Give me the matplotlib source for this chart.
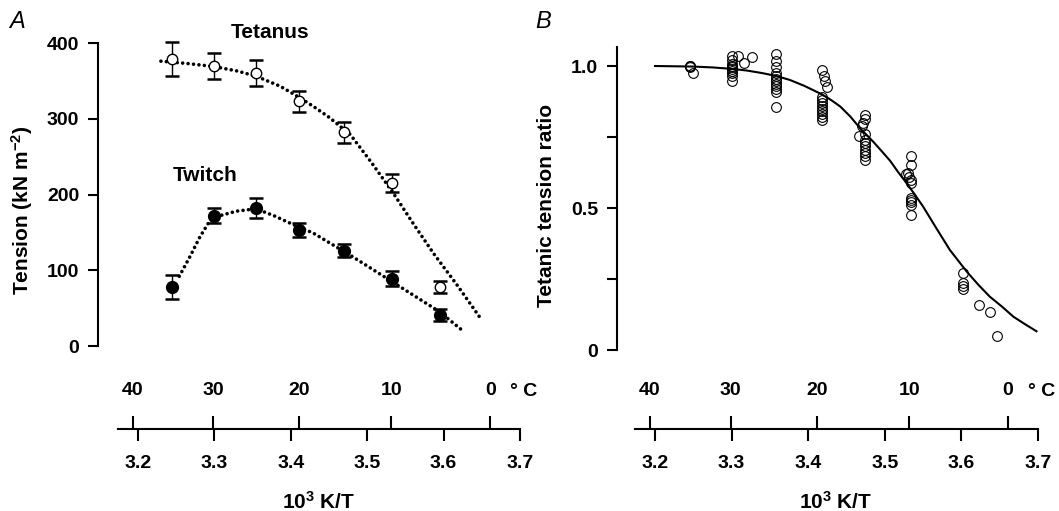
import numpy as np
import matplotlib.pyplot as plt

plt.rcParams['font.family'] = ['Liberation Sans', 'DejaVu Sans']
plt.rcParams['font.weight'] = 'bold'
plt.rcParams['axes.labelweight'] = 'bold'
plt.rcParams['mathtext.fontset'] = 'custom'
plt.rcParams['mathtext.bf'] = 'Liberation Sans:bold'
plt.rcParams['mathtext.rm'] = 'Liberation Sans:bold'
plt.rcParams['mathtext.default'] = 'bf'

# ---- panel A data (10^3 K/T, tension kN m^-2) ----
inv_T_A = [3.245, 3.299, 3.354, 3.411, 3.470, 3.532, 3.595]
tetanus = [379, 370, 360, 323, 282, 215, 78]
tetanus_err = [22, 17, 17, 14, 14, 12, 8]
twitch = [78, 172, 182, 153, 126, 89, 41]
twitch_err = [16, 10, 13, 9.5, 9, 10, 8]

tet_fit_x = [3.230, 3.264, 3.299, 3.330, 3.355, 3.386, 3.413, 3.430, 3.450, 3.478,
             3.505, 3.534, 3.560, 3.587, 3.618, 3.648]
tet_fit_y = [376, 373, 369, 363, 356, 343, 327, 316, 302, 279, 243, 202, 162, 122, 80, 37]
twi_fit_x = [3.254, 3.261, 3.268, 3.281, 3.292, 3.307, 3.329, 3.345, 3.360, 3.378, 3.395,
             3.4295, 3.4775, 3.5387, 3.595, 3.624]
twi_fit_y = [92, 105, 118, 144, 162, 172, 178, 180, 179, 172, 164, 149, 120, 81, 45, 21]

# ---- panel B data (tetanic tension ratio) ----
ratio_x = ([3.246, 3.246, 3.246, 3.250]
           + [3.300, 3.309, 3.326, 3.316, 3.300, 3.300, 3.300, 3.300, 3.300, 3.300, 3.300, 3.300, 3.300]
           + [3.358] * 12
           + [3.418, 3.420, 3.422, 3.424] + [3.418] * 9
           + [3.474, 3.474, 3.472, 3.470, 3.466, 3.474, 3.474, 3.474, 3.474, 3.474, 3.474, 3.474, 3.474]
           + [3.534, 3.534, 3.530, 3.528, 3.532, 3.534, 3.534, 3.534, 3.534, 3.534, 3.534, 3.534]
           + [3.602, 3.602, 3.602, 3.602, 3.623, 3.637, 3.647])
ratio_y = ([1.0, 1.0, 0.998, 0.977]
           + [1.035, 1.035, 1.033, 1.012, 1.02, 1.008, 1.0, 0.995, 0.99, 0.983, 0.975, 0.965, 0.947]
           + [1.044, 1.019, 0.998, 0.975, 0.965, 0.955, 0.947, 0.938, 0.928, 0.918, 0.910, 0.857]
           + [0.986, 0.966, 0.947, 0.927, 0.892, 0.880, 0.870, 0.860, 0.850, 0.840, 0.830, 0.820, 0.810]
           + [0.827, 0.815, 0.800, 0.790, 0.752, 0.762, 0.740, 0.728, 0.717, 0.705, 0.694, 0.682, 0.668]
           + [0.683, 0.651, 0.625, 0.618, 0.610, 0.600, 0.587, 0.535, 0.527, 0.520, 0.511, 0.475]
           + [0.270, 0.237, 0.225, 0.214, 0.158, 0.135, 0.049])

fit_x = [3.200, 3.225, 3.250, 3.275, 3.300, 3.320, 3.340, 3.358, 3.376, 3.395, 3.418,
         3.430, 3.442, 3.455, 3.468, 3.485, 3.496, 3.507, 3.517, 3.528, 3.539, 3.550,
         3.567, 3.585, 3.596, 3.607, 3.622, 3.637, 3.652, 3.668, 3.683, 3.698]
fit_y = [1.000, 0.999, 0.998, 0.995, 0.990, 0.984, 0.975, 0.965, 0.951, 0.930, 0.900,
         0.880, 0.857, 0.822, 0.780, 0.733, 0.700, 0.666, 0.628, 0.589, 0.548, 0.505,
         0.430, 0.352, 0.314, 0.276, 0.230, 0.188, 0.155, 0.117, 0.091, 0.066]

xticks = [3.2, 3.3, 3.4, 3.5, 3.6, 3.7]
celsius = [40, 30, 20, 10, 0]

W, H = 1059, 511
fig = plt.figure(figsize=(W / 100, H / 100), dpi=100)


def make_axes(left_px, right_px, x32_px, px_per_01, ylim, ybounds, yticks, ylabels):
    ax = fig.add_axes([left_px / W, (H - 429) / H, (right_px - left_px) / W, 399 / H])
    x0 = 3.2 - (x32_px - left_px) / px_per_01 * 0.1
    x1 = 3.2 + (right_px - x32_px) / px_per_01 * 0.1
    ax.set_xlim(x0, x1)
    ax.set_ylim(*ylim)
    for s in ['top', 'right']:
        ax.spines[s].set_visible(False)
    for s in ['left', 'bottom']:
        ax.spines[s].set_linewidth(1.5)
    ax.spines['left'].set_bounds(*ybounds)
    ax.spines['bottom'].set_bounds(3.174, 3.7)
    ax.set_xticks(xticks)
    ax.set_xticklabels([f'{v:.1f}' for v in xticks])
    ax.set_yticks(yticks)
    ax.set_yticklabels(ylabels)
    ax.tick_params(axis='x', direction='out', length=8.6, width=1.5, pad=10, labelsize=14)
    ax.tick_params(axis='y', direction='out', length=7.5, width=1.5, pad=6, labelsize=14)
    # Celsius scale on top of the same line
    axt = ax.twiny()
    axt.set_xlim(ax.get_xlim())
    for s in axt.spines.values():
        s.set_visible(False)
    axt.spines['top'].set_position(('axes', 0))
    axt.set_xticks([1000 / (c + 273.15) for c in celsius])
    axt.set_xticklabels([str(c) for c in celsius])
    axt.tick_params(axis='x', direction='out', length=9.4, width=1.5, pad=12, labelsize=14)
    ax.set_xlabel('10$^3$ K/T', fontsize=15, va='center')
    ax.xaxis.set_label_coords(0.5, (429 - 502) / 399)
    return ax


# ---- panel A ----
sA = 400 / 303
axA = make_axes(98, 540, 138, 76.4, (-(429 - 346) * sA, 400 + 13 * sA), (0, 400),
                [0, 100, 200, 300, 400], ['0', '100', '200', '300', '400'])
dots = dict(color='black', lw=2.6, linestyle=(0, (0.01, 1.5)), dash_capstyle='round', zorder=2)
axA.plot(tet_fit_x, tet_fit_y, **dots)
axA.plot(twi_fit_x, twi_fit_y, **dots)
axA.errorbar(inv_T_A, tetanus, yerr=tetanus_err, fmt='none', ecolor='black', elinewidth=1.0,
             capsize=5, capthick=1.8, zorder=3)
axA.errorbar(inv_T_A, twitch, yerr=twitch_err, fmt='none', ecolor='black', elinewidth=1.0,
             capsize=5, capthick=1.8, zorder=3)
axA.plot(inv_T_A, tetanus, 'o', ms=7.5, mfc='white', mec='black', mew=1.0, zorder=4)
axA.plot(inv_T_A, twitch, 'o', ms=8.5, mfc='black', mec='black', zorder=4)
axA.text(3.373, 414.5, 'Tetanus', fontsize=15, ha='center', va='center', clip_on=False)
axA.text(3.288, 225, 'Twitch', fontsize=15, ha='center', va='center')
axA.set_ylabel('Tension (kN m$^{-2}$)', fontsize=15, va='center')
axA.yaxis.set_label_coords((22 - 98) / 442, (429 - 210) / 399)

# ---- panel B ----
sB = 1 / 284
axB = make_axes(617, 1055, 655, 76.6, (-(429 - 350) * sB, 1 + 36 * sB), (0, 1.068),
                [0, 0.25, 0.5, 0.75, 1.0], ['0', '', '0.5', '', '1.0'])
axB.plot(fit_x, fit_y, color='black', lw=1.5, zorder=2)
axB.plot(ratio_x, ratio_y, 'o', ms=7, mfc='none', mec='black', mew=0.8, zorder=3)
axB.set_ylabel('Tetanic tension ratio', fontsize=15, va='center')
axB.yaxis.set_label_coords((547 - 617) / 438, (429 - 205) / 399)

# labels outside axes
fig.text(524 / W, 1 - 391 / H, '° C', fontsize=14, ha='center', va='center')
fig.text(1042 / W, 1 - 391 / H, '° C', fontsize=14, ha='center', va='center')
fig.text(17 / W, 1 - 22 / H, 'A', fontsize=17, style='italic', weight='normal', ha='center', va='center')
fig.text(543 / W, 1 - 22 / H, 'B', fontsize=17, style='italic', weight='normal', ha='center', va='center')

fig.savefig('out.png', dpi=100)
